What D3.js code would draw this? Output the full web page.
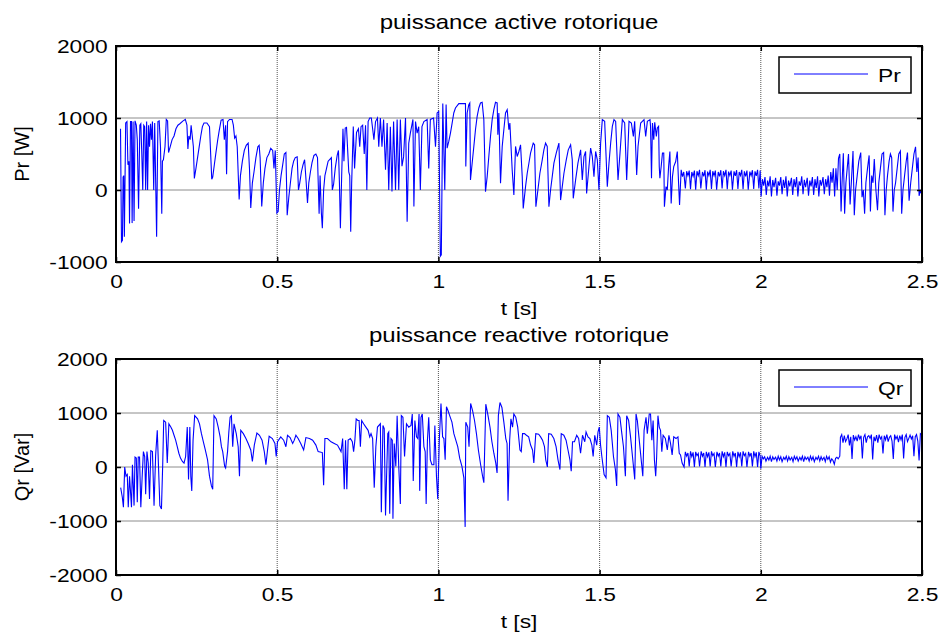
<meta charset="utf-8">
<head>
<style>
  body { margin: 0; background: #fff; }
  text { font-family: Arial, "Liberation Sans", sans-serif; fill: #000; }
</style>
</head>
<body>
<div id="chartId"></div>
<script src="https://cdn.jsdelivr.net/npm/d3@7/dist/d3.min.js"></script>
<script>

// ---- data ----
var xTicks = [0, 0.5, 1, 1.5, 2, 2.5];
var prTicks = [-1000, 0, 1000, 2000];
var qrTicks = [-2000, -1000, 0, 1000, 2000];
var titles = ["puissance active rotorique", "puissance reactive rotorique"];
var yLabels = ["Pr [W]", "Qr [Var]"];
var legendNames = ["Pr", "Qr"];

// [t (s), Pr (W)]
var prData = [
 [0.014,850],[0.017,-720],[0.020,-700],[0.022,180],[0.024,200],[0.026,-650],[0.030,930],[0.034,950],
 [0.037,350],[0.040,400],[0.042,-465],[0.045,950],[0.048,950],[0.050,-460],[0.053,950],[0.056,-430],
 [0.059,960],[0.063,900],[0.066,700],[0.070,-260],[0.074,900],[0.077,920],[0.080,500],[0.083,0],
 [0.086,900],[0.089,880],[0.092,0],[0.095,950],[0.098,0],[0.101,900],[0.104,600],[0.107,920],
 [0.110,700],[0.113,950],[0.117,0],[0.120,930],[0.126,-650],[0.130,950],[0.134,960],[0.138,600],
 [0.142,-330],[0.144,400],[0.147,420],[0.152,600],[0.156,980],[0.160,960],[0.163,520],[0.168,600],
 [0.174,700],[0.180,750],[0.186,850],[0.192,900],[0.198,920],[0.208,960],[0.215,980],[0.220,900],
 [0.223,570],[0.226,750],[0.230,700],[0.233,900],[0.240,600],[0.243,160],[0.248,300],[0.253,450],
 [0.258,600],[0.263,750],[0.268,880],[0.273,930],[0.282,930],[0.290,880],[0.297,150],[0.300,180],
 [0.305,350],[0.310,520],[0.315,680],[0.320,820],[0.326,970],[0.332,980],[0.336,700],[0.340,900],
 [0.343,220],[0.346,950],[0.352,980],[0.360,980],[0.364,900],[0.368,720],[0.372,750],[0.376,600],
 [0.382,-130],[0.386,200],[0.392,400],[0.398,550],[0.404,620],[0.410,650],[0.414,300],[0.418,-250],
 [0.423,100],[0.428,250],[0.434,450],[0.440,600],[0.444,620],[0.447,450],[0.452,-230],[0.457,100],
 [0.462,300],[0.468,450],[0.474,500],[0.480,580],[0.486,550],[0.490,300],[0.494,550],[0.499,-320],
 [0.503,-300],[0.507,0],[0.512,200],[0.517,350],[0.522,500],[0.527,520],[0.531,-350],[0.536,-100],
 [0.541,100],[0.546,300],[0.551,400],[0.556,450],[0.562,460],[0.566,0],[0.570,100],[0.575,250],
 [0.580,350],[0.585,420],[0.590,100],[0.594,-180],[0.598,100],[0.603,250],[0.608,380],[0.614,480],
 [0.620,500],[0.625,450],[0.630,-330],[0.633,200],[0.637,-320],[0.640,-530],[0.644,0],[0.648,200],
 [0.653,300],[0.658,400],[0.664,430],[0.668,450],[0.671,0],[0.675,80],[0.680,300],[0.686,480],
 [0.690,550],[0.693,100],[0.696,-530],[0.700,200],[0.704,850],[0.707,400],[0.711,860],[0.715,870],
 [0.722,250],[0.725,200],[0.728,-580],[0.731,100],[0.736,880],[0.740,300],[0.746,800],[0.752,850],
 [0.756,600],[0.760,880],[0.765,900],[0.770,500],[0.774,900],[0.778,0],[0.782,950],[0.787,1000],
 [0.792,1000],[0.796,850],[0.800,700],[0.805,950],[0.811,1000],[0.815,600],[0.820,1000],[0.825,600],
 [0.830,980],[0.836,280],[0.841,930],[0.846,0],[0.851,880],[0.856,-20],[0.861,950],[0.867,0],
 [0.872,980],[0.877,0],[0.882,980],[0.887,330],[0.892,460],[0.898,1000],[0.903,-440],[0.908,650],
 [0.913,790],[0.921,980],[0.924,-230],[0.929,950],[0.934,790],[0.939,880],[0.944,0],[0.949,880],
 [0.955,950],[0.965,980],[0.970,300],[0.975,980],[0.985,1000],[0.991,600],[0.996,1070],[1.001,1090],
 [1.006,-920],[1.009,-900],[1.0136,1200],[1.0198,0],[1.0239,1186],[1.027,581],[1.0322,674],[1.0374,790],
 [1.0426,930],[1.0477,1070],[1.0529,1139],[1.0633,1200],[1.0788,1200],[1.084,1200],[1.085,326],[1.0892,1070],
 [1.0943,1186],[1.0974,1209],[1.0995,140],[1.1047,372],[1.1099,605],[1.115,837],[1.1202,1023],[1.1254,1139],
 [1.1306,1209],[1.1357,1218],[1.1409,977],[1.1461,-23],[1.1513,186],[1.1564,465],[1.1616,744],[1.1668,977],
 [1.172,1116],[1.1771,1218],[1.1823,1209],[1.1844,767],[1.1875,1070],[1.1927,93],[1.1979,605],[1.203,837],
 [1.2082,1070],[1.2134,1116],[1.2186,837],[1.2217,930],[1.2289,279],[1.2341,-70],[1.2393,605],[1.2444,465],
 [1.2496,535],[1.2548,628],[1.26,186],[1.2631,-256],[1.2703,47],[1.2755,233],[1.2807,372],[1.2858,512],
 [1.2941,651],[1.2983,628],[1.3024,-233],[1.3086,0],[1.3148,233],[1.3221,419],[1.3272,558],[1.3324,651],
 [1.3376,605],[1.3428,-233],[1.3479,0],[1.3531,186],[1.3583,372],[1.3655,512],[1.3738,651],[1.379,-140],
 [1.3842,47],[1.3894,233],[1.3966,419],[1.4028,558],[1.4101,628],[1.4152,419],[1.4183,-116],[1.4256,140],
 [1.4328,372],[1.4411,558],[1.4463,140],[1.4515,465],[1.4566,535],[1.4597,-47],[1.467,326],[1.4722,581],
 [1.4773,465],[1.4825,186],[1.4877,535],[1.4929,419],[1.498,0],[1.5032,651],[1.5084,977],[1.5157,953],
 [1.5239,47],[1.5291,372],[1.5343,651],[1.5395,884],[1.5446,977],[1.5498,953],[1.5571,140],[1.5633,512],
 [1.5705,977],[1.5778,930],[1.584,140],[1.5881,605],[1.5912,953],[1.5985,930],[1.6047,744],[1.6088,953],
 [1.615,209],[1.6192,605],[1.6274,930],[1.6378,977],[1.643,744],[1.6481,953],[1.6564,977],[1.658,884],
 [1.661,163],[1.664,930],[1.668,698],[1.671,940],[1.676,744],[1.679,860],[1.683,884],[1.685,326],
 [1.687,163],[1.691,326],[1.695,512],[1.699,512],[1.701,-233],[1.706,47],[1.710,0],[1.714,326],
 [1.718,535],[1.722,-186],[1.726,186],[1.730,326],[1.736,395],[1.741,535],[1.745,93],[1.748,-209],
 [1.753,280],[1.757,186],[1.761,250],[1.766,23],[1.770,260],[1.774,200],[1.778,270],[1.782,10],
 [1.786,250],[1.790,190],[1.794,270],[1.798,5],[1.802,260],[1.806,200],[1.810,280],[1.814,20],
 [1.819,250],[1.823,190],[1.827,275],[1.831,5],[1.835,255],[1.839,200],[1.843,280],[1.847,15],
 [1.851,260],[1.855,200],[1.859,270],[1.863,5],[1.868,250],[1.872,190],[1.876,275],[1.880,20],
 [1.884,260],[1.888,200],[1.892,280],[1.896,10],[1.900,255],[1.904,200],[1.908,270],[1.912,5],
 [1.917,260],[1.921,195],[1.925,275],[1.929,15],[1.933,250],[1.937,200],[1.941,280],[1.945,10],
 [1.949,260],[1.953,190],[1.957,270],[1.961,5],[1.966,255],[1.970,200],[1.974,275],[1.978,15],
 [1.982,260],[1.986,195],[1.990,280],[1.994,20],[1.998,270],[2.001,-90],[2.005,150],[2.009,60],
 [2.013,180],[2.017,-70],[2.021,130],[2.025,50],[2.029,190],[2.033,-90],[2.037,140],[2.041,40],
 [2.046,170],[2.050,-80],[2.054,120],[2.058,60],[2.062,180],[2.066,-60],[2.070,140],[2.074,30],
 [2.078,190],[2.082,-90],[2.086,130],[2.090,50],[2.095,170],[2.099,-70],[2.103,150],[2.107,40],
 [2.111,180],[2.115,-90],[2.119,120],[2.123,60],[2.127,190],[2.131,-60],[2.135,140],[2.139,40],
 [2.144,170],[2.148,-80],[2.152,130],[2.156,50],[2.160,180],[2.164,-70],[2.168,150],[2.172,30],
 [2.176,190],[2.180,-90],[2.184,140],[2.188,60],[2.193,180],[2.197,-60],[2.201,150],[2.205,40],
 [2.209,200],[2.213,-80],[2.217,250],[2.221,100],[2.225,300],[2.229,-90],[2.233,300],[2.237,0],
 [2.241,440],[2.245,500],[2.249,-300],[2.252,100],[2.256,510],[2.260,-330],[2.264,100],[2.268,300],
 [2.272,500],[2.277,-200],[2.282,200],[2.286,540],[2.290,-350],[2.294,0],[2.299,200],[2.304,400],
 [2.310,520],[2.314,-100],[2.318,0],[2.322,-330],[2.326,100],[2.331,300],[2.336,480],[2.340,-300],
 [2.344,200],[2.348,100],[2.352,430],[2.357,0],[2.362,-280],[2.366,100],[2.371,300],[2.376,500],
 [2.381,520],[2.385,-350],[2.389,0],[2.393,200],[2.398,400],[2.402,500],[2.406,450],[2.410,-300],
 [2.414,0],[2.418,100],[2.423,300],[2.428,500],[2.433,540],[2.437,-330],[2.441,0],[2.446,200],
 [2.451,400],[2.455,520],[2.460,-150],[2.465,100],[2.470,300],[2.475,500],[2.480,600],[2.484,250],
 [2.488,450],[2.491,-80],[2.495,0],[2.498,-50],[2.500,-60]
];

// [t (s), Qr (Var)]
var qrData = [
 [0.0145,-382],[0.0197,-564],[0.023,-745],[0.027,0],[0.031,-170],[0.035,-139],[0.038,-745],[0.042,-170],
 [0.048,-745],[0.051,42],[0.056,-715],[0.059,182],[0.063,164],[0.066,-654],[0.069,182],[0.073,182],
 [0.077,-745],[0.081,-200],[0.085,285],[0.089,194],[0.092,-503],[0.096,285],[0.100,73],[0.104,-594],
 [0.108,303],[0.113,285],[0.118,-715],[0.123,224],[0.128,679],[0.132,-18],[0.136,-715],[0.141,-776],
 [0.145,73],[0.148,861],[0.154,830],[0.159,73],[0.164,800],[0.170,739],[0.175,679],[0.180,588],
 [0.185,497],[0.190,376],[0.195,255],[0.200,164],[0.206,103],[0.211,73],[0.216,194],[0.221,739],
 [0.225,-230],[0.229,739],[0.232,-170],[0.235,-442],[0.239,497],[0.244,951],[0.253,891],[0.259,800],
 [0.265,618],[0.271,467],[0.277,315],[0.284,133],[0.290,-170],[0.296,-351],[0.300,-412],[0.304,951],
 [0.311,891],[0.317,739],[0.323,558],[0.327,376],[0.331,285],[0.337,12],[0.340,-18],[0.346,285],
 [0.350,648],[0.354,921],[0.358,951],[0.362,376],[0.366,800],[0.373,618],[0.379,376],[0.383,-170],
 [0.387,679],[0.395,618],[0.403,527],[0.410,436],[0.418,315],[0.423,103],[0.429,406],[0.437,630],
 [0.445,588],[0.453,497],[0.460,285],[0.465,42],[0.470,315],[0.475,570],[0.485,527],[0.493,436],
 [0.497,194],[0.501,467],[0.511,558],[0.520,497],[0.527,376],[0.532,588],[0.540,545],[0.548,436],
 [0.553,497],[0.558,588],[0.565,527],[0.573,436],[0.582,315],[0.589,545],[0.600,527],[0.610,497],
 [0.620,406],[0.627,285],[0.640,267],[0.644,-339],[0.648,527],[0.656,527],[0.667,467],[0.677,436],
 [0.687,406],[0.698,285],[0.703,527],[0.708,-412],[0.712,497],[0.716,-412],[0.720,497],[0.727,527],
 [0.733,467],[0.737,285],[0.741,497],[0.745,891],[0.750,861],[0.754,861],[0.758,376],[0.762,861],
 [0.768,800],[0.775,739],[0.782,679],[0.787,558],[0.791,618],[0.796,527],[0.801,-382],[0.806,376],
 [0.811,739],[0.820,800],[0.823,-836],[0.828,770],[0.832,709],[0.836,-897],[0.839,-230],[0.843,618],
 [0.846,648],[0.849,-867],[0.853,527],[0.857,497],[0.859,-957],[0.863,436],[0.868,12],[0.872,951],
 [0.877,12],[0.882,-685],[0.885,951],[0.890,921],[0.895,194],[0.901,800],[0.908,739],[0.915,770],
 [0.919,982],[0.922,-261],[0.927,861],[0.932,558],[0.936,527],[0.940,982],[0.942,-442],[0.946,921],
 [0.950,982],[0.955,376],[0.959,285],[0.962,-685],[0.966,497],[0.970,921],[0.975,133],[0.980,42],
 [0.986,42],[0.989,770],[0.994,-170],[0.998,-594],[1.003,527],[1.008,1176],[1.013,558],[1.017,527],
 [1.021,133],[1.025,1115],[1.030,1042],[1.035,951],[1.042,830],[1.048,618],[1.054,497],[1.060,376],
 [1.066,164],[1.073,12],[1.079,-200],[1.083,-1109],[1.085,830],[1.091,739],[1.095,376],[1.100,1176],
 [1.106,1042],[1.112,861],[1.118,618],[1.124,315],[1.131,42],[1.137,-170],[1.141,-291],[1.147,1164],
 [1.153,982],[1.160,739],[1.166,467],[1.172,255],[1.178,73],[1.182,-109],[1.186,951],[1.191,1194],
 [1.197,1103],[1.203,830],[1.209,527],[1.213,436],[1.216,-624],[1.221,497],[1.225,891],[1.230,739],
 [1.234,982],[1.240,921],[1.246,739],[1.253,315],[1.257,285],[1.261,618],[1.267,618],[1.273,588],
 [1.280,558],[1.286,406],[1.292,315],[1.296,73],[1.302,618],[1.311,606],[1.317,558],[1.323,497],
 [1.329,376],[1.333,133],[1.338,0],[1.342,618],[1.350,606],[1.358,527],[1.365,376],[1.371,133],
 [1.377,-48],[1.381,618],[1.389,588],[1.396,497],[1.402,315],[1.408,133],[1.412,-79],[1.416,467],
 [1.422,467],[1.429,588],[1.435,527],[1.441,255],[1.447,588],[1.454,467],[1.458,648],[1.464,558],
 [1.470,527],[1.476,406],[1.480,194],[1.485,588],[1.491,406],[1.495,648],[1.499,739],[1.503,406],
 [1.507,194],[1.514,-139],[1.520,-200],[1.524,951],[1.530,921],[1.536,679],[1.543,194],[1.549,-48],
 [1.553,-351],[1.557,982],[1.563,921],[1.569,618],[1.574,376],[1.580,-170],[1.584,951],[1.590,861],
 [1.596,558],[1.603,133],[1.609,-230],[1.613,982],[1.617,861],[1.623,497],[1.630,73],[1.634,-170],
 [1.638,679],[1.644,921],[1.648,618],[1.654,982],[1.658,982],[1.662,497],[1.666,861],[1.670,133],
 [1.674,-170],[1.677,194],[1.681,951],[1.685,739],[1.689,679],[1.693,285],[1.697,588],[1.704,527],
 [1.710,315],[1.715,588],[1.720,436],[1.725,224],[1.730,558],[1.737,527],[1.743,558],[1.747,255],
 [1.751,224],[1.756,73],[1.762,0],[1.766,280],[1.770,200],[1.774,260],[1.778,10],[1.782,290],
 [1.786,190],[1.790,270],[1.794,0],[1.798,280],[1.802,210],[1.806,250],[1.810,10],[1.815,290],
 [1.819,200],[1.823,260],[1.827,0],[1.831,280],[1.835,190],[1.839,270],[1.843,10],[1.847,290],
 [1.851,210],[1.855,250],[1.859,0],[1.864,280],[1.868,200],[1.872,260],[1.876,10],[1.880,290],
 [1.884,190],[1.888,270],[1.892,0],[1.896,280],[1.900,210],[1.904,250],[1.908,10],[1.913,290],
 [1.917,200],[1.921,260],[1.925,0],[1.929,280],[1.933,190],[1.937,270],[1.941,10],[1.945,290],
 [1.949,210],[1.953,250],[1.957,0],[1.962,280],[1.966,200],[1.970,260],[1.974,10],[1.978,290],
 [1.982,190],[1.986,270],[1.990,0],[1.994,280],[1.998,200],[2.000,-30],[2.004,200],[2.008,150],
 [2.012,190],[2.016,110],[2.021,180],[2.025,130],[2.029,200],[2.033,100],[2.037,190],[2.041,140],
 [2.046,180],[2.050,110],[2.054,200],[2.058,130],[2.062,190],[2.066,100],[2.071,180],[2.075,140],
 [2.079,200],[2.083,110],[2.087,190],[2.091,130],[2.096,180],[2.100,100],[2.104,200],[2.108,140],
 [2.112,190],[2.116,110],[2.121,180],[2.125,130],[2.129,200],[2.133,100],[2.137,190],[2.141,140],
 [2.146,180],[2.150,110],[2.154,200],[2.158,130],[2.162,190],[2.166,100],[2.171,180],[2.175,140],
 [2.179,200],[2.183,110],[2.187,190],[2.191,130],[2.196,180],[2.200,100],[2.204,200],[2.208,140],
 [2.212,190],[2.216,90],[2.220,150],[2.224,120],[2.228,50],[2.232,160],[2.236,180],[2.240,150],
 [2.245,200],[2.247,550],[2.251,600],[2.255,450],[2.259,580],[2.263,470],[2.267,520],[2.271,600],
 [2.275,400],[2.279,560],[2.283,150],[2.287,590],[2.291,500],[2.295,560],[2.299,480],[2.303,600],
 [2.307,520],[2.311,580],[2.315,160],[2.319,550],[2.323,600],[2.327,450],[2.331,560],[2.335,580],
 [2.339,530],[2.343,600],[2.347,140],[2.351,560],[2.355,480],[2.359,590],[2.363,450],[2.367,600],
 [2.371,520],[2.375,560],[2.379,250],[2.383,580],[2.387,500],[2.391,600],[2.395,470],[2.399,550],
 [2.403,580],[2.407,480],[2.411,150],[2.415,600],[2.419,520],[2.423,570],[2.427,460],[2.431,580],
 [2.435,500],[2.439,600],[2.443,160],[2.447,550],[2.451,600],[2.455,470],[2.459,530],[2.463,590],
 [2.467,520],[2.471,580],[2.475,200],[2.479,560],[2.483,600],[2.487,480],[2.491,120],[2.495,620],
 [2.499,600]
];

// ---- layout ----
var width = 940, height = 633;
var left = 116, right = 922;
var panels = [
	{ top: 46,  bottom: 262, domain: [-1000, 2000], ticks: prTicks, data: prData },
	{ top: 359, bottom: 575, domain: [-2000, 2000], ticks: qrTicks, data: qrData }
];
var sx = 1.2; // the figure is stretched sideways

var svg = d3.select("#chartId").append("svg")
	.attr("width", width)
	.attr("height", height)
	.style("display", "block");

svg.append("rect").attr("width", width).attr("height", height).attr("fill", "#fff");

var x = d3.scaleLinear().domain([0, 2.5]).range([left, right]);

panels.forEach(function(p, i) {
	var y = d3.scaleLinear().domain(p.domain).range([p.bottom, p.top]);
	var g = svg.append("g");

	g.append("clipPath").attr("id", "clip" + i)
		.append("rect")
		.attr("x", left).attr("y", p.top)
		.attr("width", right - left).attr("height", p.bottom - p.top);

	// grid
	g.selectAll(".hgrid").data(p.ticks).enter().append("line")
		.attr("x1", left).attr("x2", right)
		.attr("y1", function(d) { return y(d); })
		.attr("y2", function(d) { return y(d); })
		.attr("stroke", "#8c8c8c").attr("stroke-width", 1);
	g.selectAll(".vgrid").data(xTicks).enter().append("line")
		.attr("x1", function(d) { return x(d); })
		.attr("x2", function(d) { return x(d); })
		.attr("y1", p.top).attr("y2", p.bottom)
		.attr("stroke", "#555").attr("stroke-width", 1)
		.attr("stroke-dasharray", "1,1");

	// signal
	var line = d3.line()
		.x(function(d) { return x(d[0]); })
		.y(function(d) { return y(d[1]); });
	g.append("path")
		.datum(p.data)
		.attr("clip-path", "url(#clip" + i + ")")
		.attr("fill", "none")
		.attr("stroke", "#0000ff")
		.attr("stroke-width", 1.1)
		.attr("d", line);

	// axes (ticks inward)
	var fmt = function(d) { return String(d); };
	var ax = g.append("g").attr("transform", "translate(0," + p.bottom + ")")
		.call(d3.axisBottom(x).tickValues(xTicks).tickFormat(fmt).tickSizeInner(-5).tickSizeOuter(0).tickPadding(13));
	var ay = g.append("g").attr("transform", "translate(" + left + ",0)")
		.call(d3.axisLeft(y).tickValues(p.ticks).tickFormat(fmt).tickSizeInner(-5).tickSizeOuter(0).tickPadding(7));
	g.append("g").attr("transform", "translate(0," + p.top + ")")
		.call(d3.axisTop(x).tickValues(xTicks).tickFormat("").tickSizeInner(-5).tickSizeOuter(0));
	g.append("g").attr("transform", "translate(" + right + ",0)")
		.call(d3.axisRight(y).tickValues(p.ticks).tickFormat("").tickSizeInner(-5).tickSizeOuter(0));

	g.selectAll(".domain").remove();
	g.selectAll(".tick line").attr("stroke", "#000").attr("stroke-width", 1.5);
	[ax, ay].forEach(function(a) {
		a.selectAll("text")
			.attr("font-size", 19)
			.attr("font-family", "Arial, 'Liberation Sans', sans-serif")
			.attr("fill", "#000")
			.attr("transform", "scale(" + sx + ",1)");
	});

	// box
	g.append("rect")
		.attr("x", left).attr("y", p.top)
		.attr("width", right - left).attr("height", p.bottom - p.top)
		.attr("fill", "none").attr("stroke", "#000").attr("stroke-width", 2);

	// title and labels
	var cx = (left + right) / 2;
	g.append("text")
		.attr("transform", "translate(" + cx + "," + (p.top - 17) + ") scale(" + sx + ",1)")
		.attr("text-anchor", "middle").attr("font-size", 20)
		.text(titles[i]);
	g.append("text")
		.attr("transform", "translate(" + cx + "," + (p.bottom + 53) + ") scale(" + sx + ",1)")
		.attr("text-anchor", "middle").attr("font-size", 19)
		.text("t [s]");
	g.append("text")
		.attr("transform", "translate(29," + ((p.top + p.bottom) / 2) + ") rotate(-90)")
		.attr("text-anchor", "middle").attr("font-size", 20)
		.text(yLabels[i]);

	// legend
	var lg = g.append("g").attr("transform", "translate(779," + (p.top + 11) + ")");
	lg.append("rect").attr("width", 132).attr("height", 36)
		.attr("fill", "#fff").attr("stroke", "#000").attr("stroke-width", 1.5);
	lg.append("line").attr("x1", 15).attr("x2", 89).attr("y1", 17).attr("y2", 17)
		.attr("stroke", "#0000ff").attr("stroke-width", 1);
	lg.append("text")
		.attr("transform", "translate(99,25) scale(" + sx + ",1)")
		.attr("font-size", 19)
		.text(legendNames[i]);
});

</script>
</body>
